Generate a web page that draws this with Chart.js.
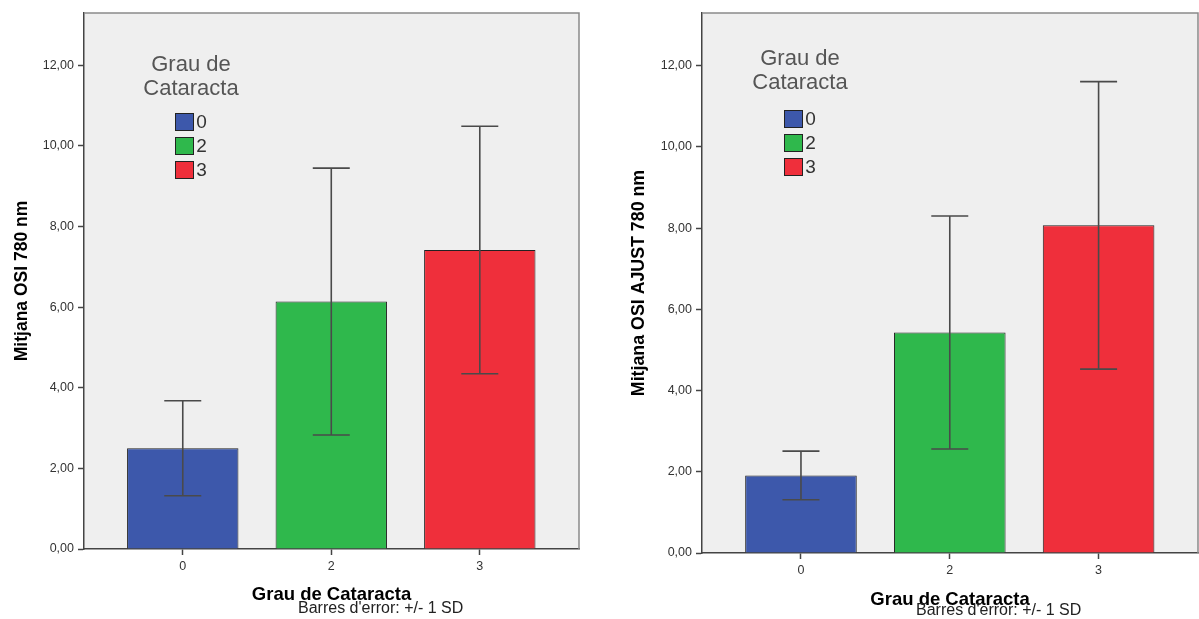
<!DOCTYPE html>
<html lang="ca">
<head>
  <meta charset="UTF-8">
  <title>Mitjana OSI per grau de cataracta</title>
  <script src="https://cdn.jsdelivr.net/npm/chart.js"></script>
  <style>
    body {
      margin: 0;
      background: #fff;
      font-family: 'Liberation Sans', Arial, sans-serif;
    }
    .panel {
      position: absolute;
      top: 0;
    }
    .legend {
      position: absolute;
      width: 200px;
    }
    .legend .title {
      font-size: 22px;
      line-height: 24.4px;
      color: #555;
      text-align: center;
    }
    .legend ul {
      list-style: none;
      margin: 0;
      padding: 0;
    }
    .legend li {
      display: flex;
      justify-content: center;
      align-items: center;
      height: 24px;
      font-size: 19px;
      color: #333;
    }
    .legend li span {
      width: 19px;
      height: 18px;
      box-sizing: border-box;
      border: 1.5px solid #222;
      margin-right: 2px;
    }
    .note {
      position: absolute;
      font-size: 16px;
      line-height: 16px;
      color: #222;
      white-space: nowrap;
    }
  </style>
</head>
<body>
  <canvas id="chartOsi" class="panel" width="600" height="619" style="left:0"></canvas>
  <canvas id="chartAjust" class="panel" width="599" height="619" style="left:600px"></canvas>
  <div class="legend" id="legendOsi" style="left:91px; top:52px"></div>
  <div class="legend" id="legendAjust" style="left:700px; top:45.6px"></div>
  <div class="note" id="noteOsi" style="left:298px; top:600px"></div>
  <div class="note" id="noteAjust" style="left:916px; top:602px"></div>
  <script>
    const categories = ['0', '2', '3'];
    const colors = ['#3d58ab', '#2fb84c', '#ef2f3b'];
    const osiMeans = [2.50, 6.14, 7.42];
    const osiSD = [1.18, 3.31, 3.07];
    const ajustMeans = [1.91, 5.43, 8.07];
    const ajustSD = [0.60, 2.87, 3.54];
    const legendTitle = ['Grau de', 'Cataracta'];
    const xTitle = 'Grau de Cataracta';
    const noteText = "Barres d'error: +/- 1 SD";

    Chart.defaults.font.family = "'Liberation Sans', Arial, sans-serif";

    // grey plot background + light frame on top/right
    const plotBox = {
      id: 'plotBox',
      beforeDraw(chart) {
        const { ctx, chartArea: a } = chart;
        ctx.save();
        ctx.fillStyle = '#efefef';
        ctx.fillRect(a.left, a.top, a.width, a.height);
        ctx.restore();
      },
      afterDraw(chart) {
        const { ctx, chartArea: a } = chart;
        ctx.save();
        ctx.strokeStyle = '#8a8a8a';
        ctx.lineWidth = 1.5;
        ctx.beginPath();
        ctx.moveTo(a.left, a.top);
        ctx.lineTo(a.right, a.top);
        ctx.lineTo(a.right, a.bottom);
        ctx.stroke();
        ctx.restore();
      }
    };

    // +/- 1 SD whiskers
    const errorBars = {
      id: 'errorBars',
      afterDatasetsDraw(chart) {
        const { ctx } = chart;
        const y = chart.scales.y;
        const ds = chart.data.datasets[0];
        chart.getDatasetMeta(0).data.forEach((bar, i) => {
          const m = ds.data[i].y, s = ds.errors[i];
          const top = y.getPixelForValue(m + s);
          const bot = y.getPixelForValue(m - s);
          ctx.save();
          ctx.strokeStyle = '#4a4a4a';
          ctx.lineWidth = 1.6;
          ctx.beginPath();
          ctx.moveTo(bar.x, top); ctx.lineTo(bar.x, bot);
          ctx.moveTo(bar.x - 18.5, top); ctx.lineTo(bar.x + 18.5, top);
          ctx.moveTo(bar.x - 18.5, bot); ctx.lineTo(bar.x + 18.5, bot);
          ctx.stroke();
          ctx.restore();
        });
      }
    };

    function createChart(id, means, sds, cfg) {
      return new Chart(document.getElementById(id), {
        type: 'bar',
        data: {
          datasets: [{
            data: means.map((v, i) => ({ x: i, y: v })),
            errors: sds,
            backgroundColor: colors,
            borderColor: '#222',
            borderWidth: 1,
            barPercentage: 0.75,
            categoryPercentage: 1
          }]
        },
        options: {
          responsive: false,
          animation: false,
          devicePixelRatio: 1,
          layout: { padding: { top: 13, right: cfg.padRight, left: 0, bottom: 0 } },
          plugins: { legend: { display: false }, tooltip: { enabled: false } },
          scales: {
            x: {
              type: 'linear',
              min: -0.665,
              max: 2.668,
              offset: false,
              afterBuildTicks: s => { s.ticks = categories.map((c, i) => ({ value: i })); },
              afterFit: s => { s.height = cfg.xHeight; },
              ticks: {
                callback: v => categories[Math.round(v)],
                font: { size: 12.5 },
                color: '#333',
                padding: 4,
                autoSkip: false,
                maxRotation: 0
              },
              grid: { drawOnChartArea: false, offset: false, tickLength: 6, color: '#444', tickWidth: 1.5 },
              border: { color: '#444', width: 1.5 },
              title: {
                display: true,
                text: xTitle,
                font: { size: 18.5, weight: 'bold' },
                color: '#000',
                padding: { top: 0, bottom: cfg.xTitlePad }
              }
            },
            y: {
              min: 0,
              max: 13.3,
              afterFit: s => { s.width = cfg.yWidth; },
              ticks: {
                stepSize: 2,
                includeBounds: false,
                callback: v => v.toFixed(2).replace('.', ','),
                font: { size: 12.5 },
                color: '#333',
                padding: 4
              },
              grid: { drawOnChartArea: false, tickLength: 6, color: '#444', tickWidth: 1.5 },
              border: { color: '#444', width: 1.5 },
              title: {
                display: true,
                text: cfg.yTitle,
                font: { size: cfg.yTitleSize, weight: 'bold' },
                color: '#000',
                padding: { top: cfg.yTitlePad, bottom: 0 }
              }
            }
          }
        },
        plugins: [plotBox, errorBars]
      });
    }

    function populateLegend(el, itemsGap) {
      el.innerHTML = `<div class="title">${legendTitle.join('<br>')}</div>
        <ul style="margin-top:${itemsGap}px">` +
        categories.map((c, i) => `<li><span style="background-color:${colors[i]}"></span>${c}</li>`).join('') +
        '</ul>';
    }

    createChart('chartOsi', osiMeans, osiSD, {
      yTitle: 'Mitjana OSI 780 nm', yTitleSize: 17.5,
      yWidth: 84, xHeight: 70, padRight: 21, yTitlePad: 11.5, xTitlePad: 12.9
    });
    createChart('chartAjust', ajustMeans, ajustSD, {
      yTitle: 'Mitjana OSI AJUST 780 nm', yTitleSize: 17.8,
      yWidth: 102, xHeight: 66, padRight: 1, yTitlePad: 28.5, xTitlePad: 7.9
    });

    populateLegend(document.getElementById('legendOsi'), 9.5);
    populateLegend(document.getElementById('legendAjust'), 12.6);
    document.getElementById('noteOsi').textContent = noteText;
    document.getElementById('noteAjust').textContent = noteText;
  </script>
</body>
</html>
